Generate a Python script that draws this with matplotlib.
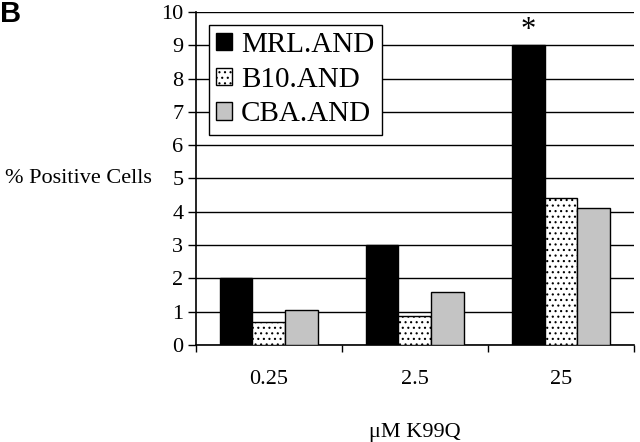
import numpy as np
import matplotlib
matplotlib.use("Agg")
import matplotlib.pyplot as plt
from matplotlib.patches import Patch

# data
doses = ["0.25", "2.5", "25"]
strains = ["MRL.AND", "B10.AND", "CBA.AND"]
mrl = [2.0, 3.0, 9.0]
b10 = [0.7, 0.88, 4.4]
cba = [1.05, 1.6, 4.1]

plt.rcParams["font.family"] = ["Liberation Serif", "DejaVu Serif"]
plt.rcParams["hatch.linewidth"] = 0.8

fig = plt.figure(figsize=(6.4, 4.42), dpi=100)
ax = fig.add_axes([0.306, 0.2195, 0.6846, 0.7534])

x = np.arange(len(doses))
w = 0.225
styles = [
    dict(color="black", edgecolor="black"),
    dict(color="white", edgecolor="black", hatch="..."),
    dict(color="#c4c4c4", edgecolor="black"),
]
for i, vals in enumerate([mrl, b10, cba]):
    ax.bar(x + (i - 1) * w, vals, w, linewidth=1.0, zorder=3, **styles[i])

ax.set_xlim(-0.5, 2.5)
ax.set_ylim(0, 10)
ax.set_yticks(range(0, 11))
ax.yaxis.grid(True, color="black", linewidth=1.0)
ax.set_axisbelow(True)

ax.set_xticks([-0.5, 0.5, 1.5, 2.5])
ax.set_xticklabels([])
ax.set_xticks(x, minor=True)
ax.set_xticklabels(doses, minor=True)
ax.tick_params(axis="x", which="minor", length=0, labelsize=16, pad=18)
ax.tick_params(axis="x", which="major", length=5, width=1, direction="out")
ax.tick_params(axis="y", length=6, width=1, direction="out", labelsize=16, pad=3)

for s in ["top", "right"]:
    ax.spines[s].set_visible(False)
ax.spines["left"].set_linewidth(1.2)
ax.spines["bottom"].set_linewidth(1.2)

fig.text(0.648, 0.022, "μM K99Q", fontsize=16, ha="center", va="center")
fig.text(0.008, 0.597, "% Positive Cells", fontsize=16, va="center", ha="left")

# significance marker
ax.text(x[2] - w, 9.45, "*", fontsize=22, ha="center", va="center")

handles = [Patch(facecolor=st["color"], edgecolor="black",
                 hatch=st.get("hatch")) for st in styles]
leg = ax.legend(handles, strains, loc="upper left", bbox_to_anchor=(0.03, 0.962),
                borderaxespad=0, fancybox=False, framealpha=1, edgecolor="black",
                fontsize=21, handlelength=0.55, handleheight=0.55, handletextpad=0.3,
                labelspacing=0.3, borderpad=0.25)
leg.get_frame().set_linewidth(1.0)
leg.set_zorder(5)

fig.text(0.0, 1.0, "B", fontsize=21, fontweight="bold", ha="left", va="top",
         family="Liberation Sans")

fig.savefig("out.png", dpi=100)
